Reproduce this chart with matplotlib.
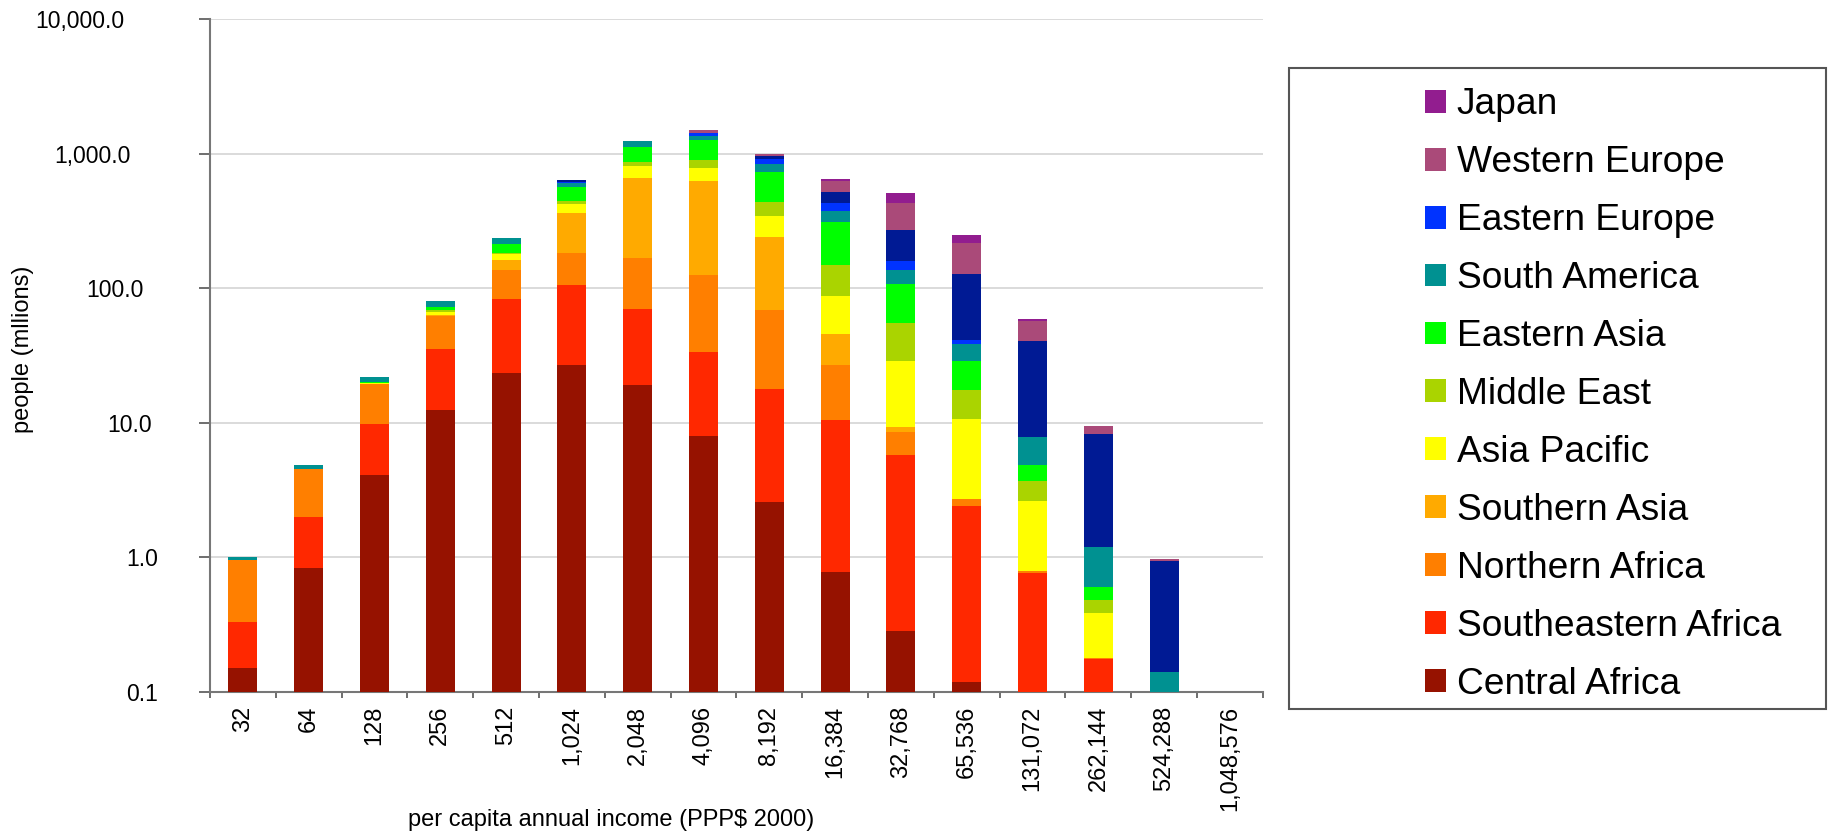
import numpy as np
import matplotlib.pyplot as plt
from matplotlib.patches import Rectangle
from matplotlib.ticker import NullLocator
from matplotlib.transforms import ScaledTranslation

plt.rcParams['font.family'] = ['Liberation Sans', 'DejaVu Sans']

# income classes (PPP$ 2000), doubling
incomes = ["32", "64", "128", "256", "512", "1,024", "2,048", "4,096", "8,192",
           "16,384", "32,768", "65,536", "131,072", "262,144", "524,288", "1,048,576"]

# people (millions) per region and income class
central_africa = [0.15, 0.84, 4.1, 12.5, 23.4, 27, 19.1, 8.0, 2.56, 0.785, 0.286, 0.119, 0, 0, 0, 0]
southeastern_africa = [0.18, 1.16, 5.7, 22.8, 60.2, 78, 50.7, 25.3, 15.3, 9.7, 5.5, 2.3, 0.766, 0.175, 0, 0]
northern_africa = [0.63, 2.56, 9.5, 26.8, 53.4, 76, 98.8, 92.4, 51.4, 16.5, 2.75, 0.3, 0.024, 0.005, 0, 0]
southern_asia = [0, 0, 0.2, 1.4, 24, 179, 492, 498, 171, 18.6, 0.75, 0, 0, 0, 0, 0]
asia_pacific = [0, 0, 0.2, 3.3, 17.6, 63, 144, 163, 102, 42.1, 19.3, 7.9, 1.84, 0.205, 0, 0]
middle_east = [0, 0, 0.2, 2.0, 4.4, 25, 58, 102, 91, 61.3, 26.5, 6.8, 1.09, 0.099, 0, 0]
eastern_asia = [0, 0, 0.3, 3.2, 31, 121, 262, 378, 298, 163, 52.4, 11.4, 1.15, 0.116, 0, 0]
south_america = [0.04, 0.33, 1.6, 8.4, 23.7, 38, 125, 73, 101, 63, 29.5, 9.9, 2.93, 0.59, 0.1416, 0]
eastern_europe = [0, 0, 0, 0, 0, 5, 0, 79, 74, 58, 23, 2.4, 0, 0, 0, 0]
north_america = [0, 0, 0, 0, 0, 22, 0, 0, 55, 87, 110, 85.4, 32.7, 7.11, 0.796, 0]
western_europe = [0, 0, 0, 0, 0, 0, 0, 67, 39, 104, 163, 88.5, 16.1, 1.2, 0.042, 0]
japan = [0, 0, 0, 0, 0, 0, 0, 0, 0, 26, 80, 32, 2.3, 0, 0, 0]

y_ticks = [0.1, 1, 10, 100, 1000, 10000]
y_tick_labels = ["0.1", "1.0", "10.0", "100.0", "1,000.0", "10,000.0"]

# bottom to top; navy series has no legend entry in the original
series = [
    ("Central Africa", central_africa, "#961200", True),
    ("Southeastern Africa", southeastern_africa, "#ff2800", True),
    ("Northern Africa", northern_africa, "#ff7f00", True),
    ("Southern Asia", southern_asia, "#ffaa00", True),
    ("Asia Pacific", asia_pacific, "#ffff00", True),
    ("Middle East", middle_east, "#aad400", True),
    ("Eastern Asia", eastern_asia, "#00ff00", True),
    ("South America", south_america, "#009191", True),
    ("Eastern Europe", eastern_europe, "#0033ff", True),
    ("North America", north_america, "#001a94", False),
    ("Western Europe", western_europe, "#aa4a79", True),
    ("Japan", japan, "#921d8f", True),
]

fig = plt.figure(figsize=(18.29, 8.32), dpi=100)
ax = fig.add_axes([0.1148, 0.1683, 0.5757, 0.8089])
ax.set_yscale('log')

x = np.arange(len(incomes))
bottom = np.zeros(len(incomes))
leg_handles, leg_labels = [], []
for name, vals, col, in_legend in series:
    vals = np.array(vals, dtype=float)
    bars = ax.bar(x, vals, 0.44, bottom=bottom, color=col, linewidth=0, zorder=3)
    bottom += vals
    if in_legend:
        leg_handles.append(bars)
        leg_labels.append(name)

ax.set_ylim(0.1, 10000)
ax.set_xlim(-0.5, len(incomes) - 0.5)

ax.set_yticks(y_ticks)
ax.set_yticklabels(y_tick_labels, fontsize=16.5)
ax.yaxis.set_minor_locator(NullLocator())
ax.tick_params(axis='y', which='major', direction='out', length=8, width=1.2,
               color='#555555', pad=29)
# original labels are not right-aligned; nudge them like the reference
offsets_px = [-1, 0, -7, -15, -28, -34]
for lab, dx in zip(ax.get_yticklabels(), offsets_px):
    lab.set_transform(lab.get_transform() + ScaledTranslation(dx / 100, 0, fig.dpi_scale_trans))

ax.set_xticks(x)
ax.set_xticklabels(incomes, rotation=90, fontsize=17, va='top', ha='center')
ax.set_xticks(np.arange(len(incomes) + 1) - 0.5, minor=True)
ax.tick_params(axis='x', which='major', length=0, pad=10)
ax.tick_params(axis='x', which='minor', direction='out', length=4.5, width=1.2, color='#555555')

ax.grid(axis='y', which='major', color='#d4d4d4', linewidth=1.2, zorder=0)
ax.set_axisbelow(True)
for s in ['top', 'right']:
    ax.spines[s].set_visible(False)
for s in ['left', 'bottom']:
    ax.spines[s].set_color('#777777')
    ax.spines[s].set_linewidth(1.5)

fig.text(0.0128, 0.58, "people (mllions)", rotation=90, fontsize=17, ha='center', va='center')
fig.text(0.334, 0.0144, "per capita annual income (PPP$ 2000)", fontsize=17, ha='center', va='center')

fig.legend(leg_handles[::-1], leg_labels[::-1], loc='upper left',
           bbox_to_anchor=(1425 / 1829, 0.895), frameon=False, fontsize=26.7,
           handlelength=0.57, handleheight=0.57, handletextpad=0.29,
           labelspacing=0.618, borderpad=0, borderaxespad=0)
fig.add_artist(Rectangle((0.7048, 0.1478), 0.2936, 0.7704, transform=fig.transFigure,
                         fill=False, edgecolor='#555555', linewidth=1.5))

fig.savefig('out.png', dpi=100)
